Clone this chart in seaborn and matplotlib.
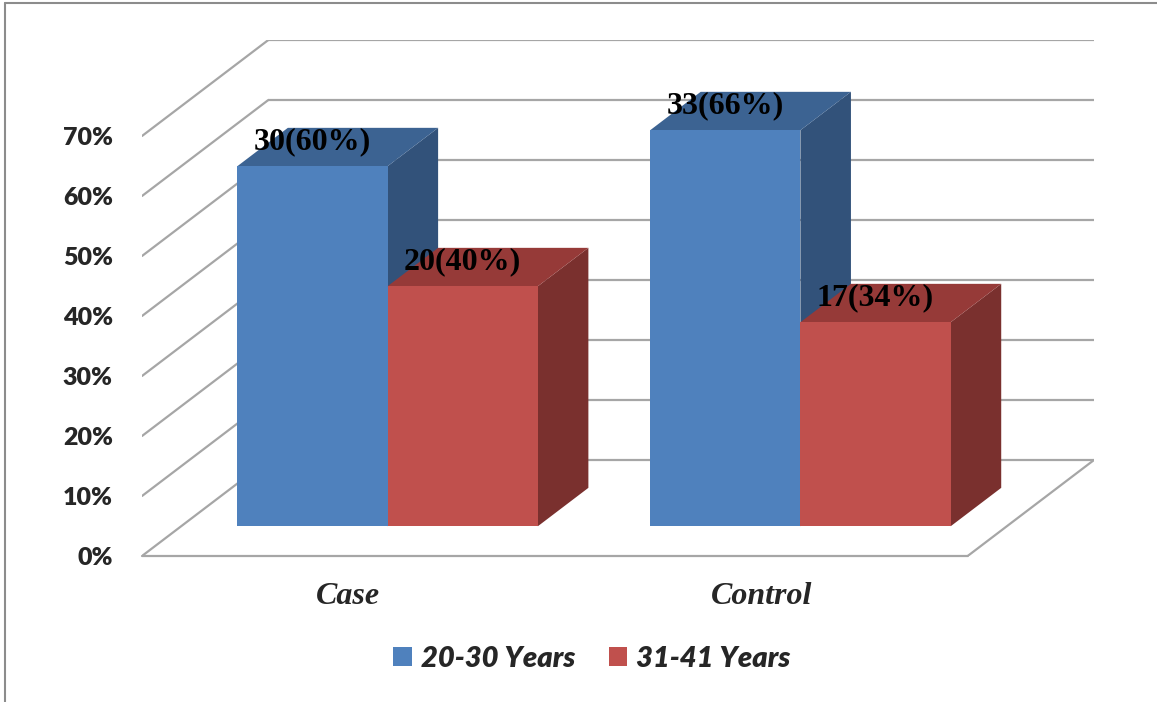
import matplotlib
matplotlib.use("Agg")
import matplotlib.pyplot as plt
from matplotlib.patches import Polygon, Patch
from matplotlib.lines import Line2D
import seaborn as sns
import pandas as pd

# ---- data ----
groups = ["Case", "Control"]
age_bands = ["20-30 Years", "31-41 Years"]
counts_20_30 = [30, 33]
pct_20_30 = [60, 66]
counts_31_41 = [20, 17]
pct_31_41 = [40, 34]
y_ticks = [0, 10, 20, 30, 40, 50, 60, 70]
y_tick_labels = ["0%", "10%", "20%", "30%", "40%", "50%", "60%", "70%"]

df = pd.DataFrame({
    "group": groups * 2,
    "age": [age_bands[0]] * 2 + [age_bands[1]] * 2,
    "pct": pct_20_30 + pct_31_41,
    "count": counts_20_30 + counts_31_41,
})

# ---- styling ----
sns.set_theme(style="white")
plt.rcParams["font.family"] = ["Lato", "DejaVu Sans"]

front_cols = ["#4F81BD", "#C0504D"]
top_cols = ["#3C6392", "#963A38"]
side_cols = ["#32527A", "#7A302E"]
grid_col = "#A6A6A6"

# oblique projection: full depth of the box expressed in data units
DEPTH_X = 0.306   # category units
DEPTH_Y = 16.0    # percent units
BAR_FRONT = 0.31  # depth fraction where bar fronts sit
BAR_DEPTH = 0.40  # depth fraction occupied by each bar

fig = plt.figure(figsize=(11.57, 7.02), dpi=100)
ax = fig.add_axes([142 / 1157, 1 - 556 / 702, 952 / 1157, 516 / 702])

sns.barplot(data=df, x="group", y="pct", hue="age", palette=front_cols,
            width=0.728, saturation=1, legend=False, ax=ax, linewidth=0)

x_lo, x_hi = -0.5, 1.5
ax.set_xlim(x_lo, x_hi + DEPTH_X)
ax.set_ylim(0, y_ticks[-1] + DEPTH_Y)

# back wall gridlines and left wall diagonals
for v in y_ticks:
    ax.plot([x_lo + DEPTH_X, x_hi + DEPTH_X], [v + DEPTH_Y, v + DEPTH_Y],
            color=grid_col, lw=1.6, zorder=1, solid_capstyle="butt")
    ax.plot([x_lo, x_lo + DEPTH_X], [v, v + DEPTH_Y],
            color=grid_col, lw=1.6, zorder=1)
# floor front edge and right edge
ax.plot([x_lo, x_hi], [0, 0], color=grid_col, lw=1.6, zorder=1, clip_on=False)
ax.plot([x_hi, x_hi + DEPTH_X], [0, DEPTH_Y], color=grid_col, lw=1.6, zorder=1)

# turn flat bars into boxes
ox, oy = BAR_FRONT * DEPTH_X, BAR_FRONT * DEPTH_Y
dx, dy = BAR_DEPTH * DEPTH_X, BAR_DEPTH * DEPTH_Y
bars = []
for si, cont in enumerate(ax.containers):
    counts = counts_20_30 if si == 0 else counts_31_41
    for gi, p in enumerate(cont.patches):
        bars.append((p.get_x(), si, gi, p, counts[gi]))
bars.sort(key=lambda b: b[0])

for k, (_, si, gi, p, cnt) in enumerate(bars):
    h = p.get_height()
    w = p.get_width()
    x0 = p.get_x() + ox
    y0 = oy
    p.set_x(x0)
    p.set_y(y0)
    p.set_zorder(5 + 3 * k)
    side = Polygon([(x0 + w, y0), (x0 + w, y0 + h), (x0 + w + dx, y0 + h + dy),
                    (x0 + w + dx, y0 + dy)], closed=True, facecolor=side_cols[si],
                   edgecolor="none", zorder=3 + 3 * k)
    top = Polygon([(x0, y0 + h), (x0 + w, y0 + h), (x0 + w + dx, y0 + h + dy),
                   (x0 + dx, y0 + h + dy)], closed=True, facecolor=top_cols[si],
                  edgecolor="none", zorder=4 + 3 * k)
    ax.add_patch(side)
    ax.add_patch(top)
    ax.text(x0 + w / 2, y0 + h + 2.9, f"{cnt}({int(h)}%)", ha="center", va="baseline",
            fontsize=23, fontweight="bold", family="Liberation Serif",
            color="black", zorder=30)

# axes text
ax.set_yticks(y_ticks)
ax.set_yticklabels(y_tick_labels, fontsize=18, fontweight="heavy", family="Lato")
ax.set_xticks(range(len(groups)))
ax.set_xticklabels(groups, fontsize=23, fontweight="bold", fontstyle="italic",
                   family="Liberation Serif")
ax.tick_params(axis="y", length=0, pad=21)
ax.tick_params(axis="x", length=0, pad=19)
ax.set_xlabel("")
ax.set_ylabel("")
for s in ax.spines.values():
    s.set_visible(False)
ax.patch.set_alpha(0)

# legend
handles = [Patch(facecolor=front_cols[i], edgecolor="none", label=age_bands[i])
           for i in range(2)]
fig.legend(handles=handles, loc="center", bbox_to_anchor=(592 / 1157, 1 - 659 / 702),
           ncol=2, frameon=False,
           prop={"family": "Lato", "weight": "heavy", "style": "italic", "size": 21},
           handlelength=0.62, handleheight=0.62, handletextpad=0.31,
           columnspacing=1.17)

# chart area frame (left and top edges)
fig.add_artist(Line2D([5 / 1157, 5 / 1157], [0, 1 - 3 / 702], transform=fig.transFigure,
                      color="#8C8C8C", lw=1.5))
fig.add_artist(Line2D([5 / 1157, 1], [1 - 3 / 702, 1 - 3 / 702], transform=fig.transFigure,
                      color="#8C8C8C", lw=1.5))

fig.savefig("out.png", dpi=100, facecolor="white")
